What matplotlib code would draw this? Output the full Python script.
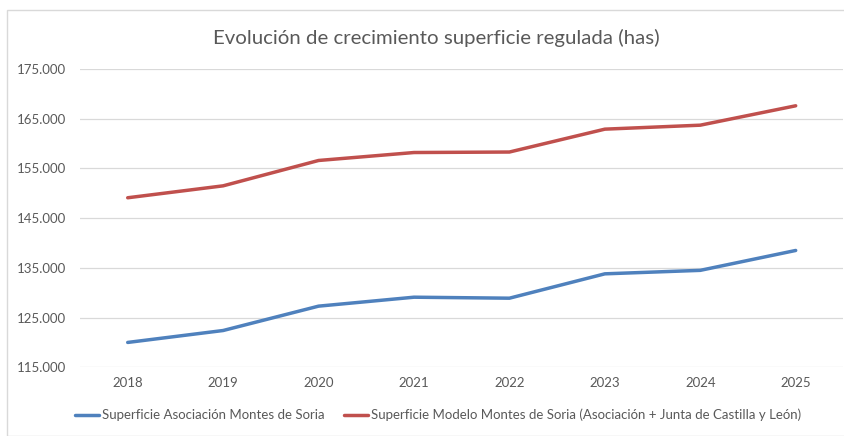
import matplotlib.pyplot as plt
from matplotlib.patches import Rectangle
from matplotlib.ticker import FuncFormatter

years = ["2018", "2019", "2020", "2021", "2022", "2023", "2024", "2025"]
asociacion = [120000, 122400, 127300, 129100, 128900, 133800, 134500, 138500]
modelo = [149100, 151500, 156600, 158200, 158300, 162900, 163700, 167600]
labels = ["Superficie Asociación Montes de Soria",
          "Superficie Modelo Montes de Soria (Asociación + Junta de Castilla y León)"]

plt.rcParams['font.family'] = ['Lato', 'DejaVu Sans']
txt = "#595959"

fig = plt.figure(figsize=(8.45, 4.36), dpi=100)
fig.patches.append(Rectangle((7 / 845, 0), 1, 1 - 10 / 436, transform=fig.transFigure,
                             fill=False, edgecolor="#d9d9d9", linewidth=1))

ax = fig.add_axes([80 / 845, 1 - 367.3 / 436, 763.4 / 845, 298.3 / 436])
x = range(len(years))
ax.plot(x, asociacion, color="#4F81BD", linewidth=2.5, label=labels[0], solid_capstyle="round")
ax.plot(x, modelo, color="#C0504D", linewidth=2.5, label=labels[1], solid_capstyle="round")

ax.set_xlim(-0.5, len(years) - 0.5)
ax.set_ylim(115000, 175000)
ax.set_yticks(range(115000, 175001, 10000))
ax.yaxis.set_major_formatter(FuncFormatter(lambda v, p: f"{v:,.0f}".replace(",", ".")))
ax.set_xticks(list(x))
ax.set_xticklabels(years)
ax.grid(axis="y", color="#d9d9d9", linewidth=0.9)
ax.set_axisbelow(True)
for s in ax.spines.values():
    s.set_visible(False)
ax.tick_params(length=0, labelsize=9.5, colors=txt, pad=10)
ax.tick_params(axis="x", pad=7)

fig.text(436 / 845, 1 - 38 / 436, "Evolución de crecimiento superficie regulada (has)",
         ha="center", va="center", fontsize=14.7, color=txt)

fig.legend(loc="center", bbox_to_anchor=(438 / 845, 1 - 415 / 436), ncol=2, frameon=False,
           fontsize=9.5, labelcolor=txt, handlelength=1.8, handletextpad=0.2, columnspacing=1.5)

fig.savefig("out.png", dpi=100)
